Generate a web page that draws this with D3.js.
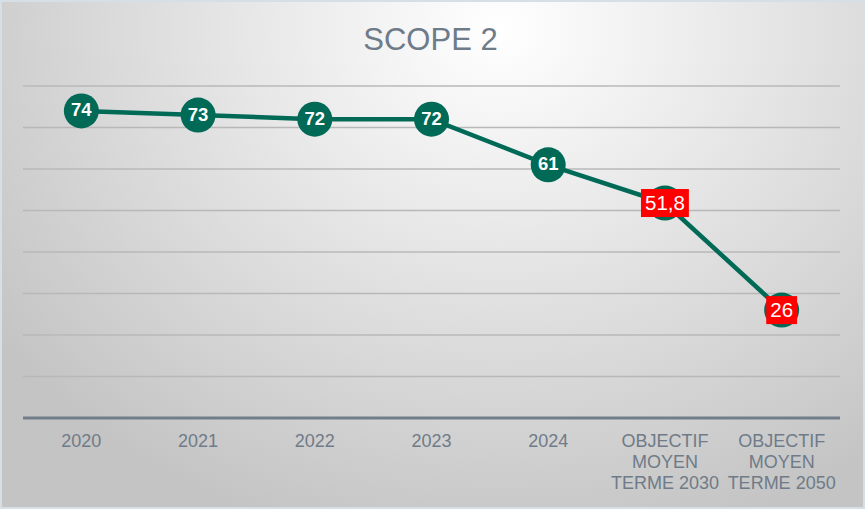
<!DOCTYPE html>
<html>
<head>
<meta charset="utf-8">
<script src="https://cdn.jsdelivr.net/npm/d3@7"></script>
<style>
  html, body { margin: 0; padding: 0; background: #d8dfe6; }
  svg { display: block; }
</style>
</head>
<body>
<svg id="chart" width="865" height="509"></svg>
<script>
const categories = ["2020", "2021", "2022", "2023", "2024", "OBJECTIF MOYEN TERME 2030", "OBJECTIF MOYEN TERME 2050"];
const categoryLines = [["2020"], ["2021"], ["2022"], ["2023"], ["2024"], ["OBJECTIF", "MOYEN", "TERME 2030"], ["OBJECTIF", "MOYEN", "TERME 2050"]];
const values = [74, 73, 72, 72, 61, 51.8, 26];
const valueLabels = ["74", "73", "72", "72", "61", "51,8", "26"];
const highlighted = [false, false, false, false, false, true, true];
const yTicks = [0, 10, 20, 30, 40, 50, 60, 70, 80];
const title = "SCOPE 2";

const W = 865, H = 509;
const svg = d3.select("#chart");
const defs = svg.append("defs");
const grad = defs.append("radialGradient")
  .attr("id", "bg").attr("gradientUnits", "userSpaceOnUse")
  .attr("cx", 500).attr("cy", 30).attr("r", 620)
  .attr("gradientTransform", "translate(500,30) scale(1,0.85) translate(-500,-30)");
grad.append("stop").attr("offset", "0%").attr("stop-color", "#ffffff");
grad.append("stop").attr("offset", "100%").attr("stop-color", "#c4c4c4");

svg.append("rect").attr("x", 0).attr("y", 0).attr("width", W).attr("height", H).attr("fill", "#d6dee6");
svg.append("rect").attr("x", 2).attr("y", 2).attr("width", W - 4).attr("height", H - 4).attr("fill", "url(#bg)");

const margin = { left: 23, right: 25, top: 86, bottom: 91 };
const x = d3.scaleBand().domain(categories).range([margin.left, W - margin.right]);
const y = d3.scaleLinear().domain([0, 80]).range([418, 86]);

// gridlines
svg.append("g").selectAll("line").data(yTicks.filter(t => t > 0)).join("line")
  .attr("x1", margin.left).attr("x2", W - margin.right)
  .attr("y1", d => y(d)).attr("y2", d => y(d))
  .attr("stroke", "#b8b8b8").attr("stroke-width", 1.5);

// x axis line
svg.append("line")
  .attr("x1", margin.left).attr("x2", W - margin.right)
  .attr("y1", y(0)).attr("y2", y(0))
  .attr("stroke", "#717e8a").attr("stroke-width", 3);

// x axis labels
const xAxis = d3.axisBottom(x).tickSize(0).tickFormat(() => "");
const gx = svg.append("g").attr("transform", `translate(0,${y(0)})`).call(xAxis);
gx.select(".domain").remove();
gx.selectAll(".tick").each(function(d, i) {
  const t = d3.select(this).append("text")
    .attr("text-anchor", "middle")
    .attr("font-family", "Liberation Sans, Arial, sans-serif")
    .attr("font-size", 18)
    .attr("fill", "#6f7b88");
  categoryLines[i].forEach((ln, j) => {
    t.append("tspan").attr("x", 0).attr("y", 29 + j * 21).text(ln);
  });
});

// title
svg.append("text")
  .attr("x", W / 2 - 2).attr("y", 50)
  .attr("text-anchor", "middle")
  .attr("font-family", "Liberation Sans, Arial, sans-serif")
  .attr("font-size", 31)
  .attr("fill", "#6e7b89")
  .text(title);

// line
const cx = (d, i) => x(categories[i]) + x.bandwidth() / 2;
const line = d3.line().x((d, i) => cx(d, i)).y(d => y(d));
svg.append("path").datum(values)
  .attr("d", line)
  .attr("fill", "none")
  .attr("stroke", "#006a57")
  .attr("stroke-width", 4.5);

// markers
svg.append("g").selectAll("circle").data(values).join("circle")
  .attr("cx", cx).attr("cy", d => y(d)).attr("r", 17.5)
  .attr("fill", "#006a57");

// labels
const lbl = svg.append("g").selectAll("g").data(values).join("g")
  .attr("transform", (d, i) => `translate(${cx(d, i)},${y(d)})`);
lbl.each(function(d, i) {
  const g = d3.select(this);
  if (highlighted[i]) {
    const t = g.append("text")
      .attr("text-anchor", "middle").attr("dy", "0.36em")
      .attr("font-family", "Liberation Sans, Arial, sans-serif")
      .attr("font-size", 20.5).attr("fill", "#ffffff")
      .text(valueLabels[i]);
    const bb = t.node().getBBox();
    g.insert("rect", "text")
      .attr("x", bb.x - 4).attr("y", -14)
      .attr("width", bb.width + 8).attr("height", 28)
      .attr("fill", "#ff0000");
  } else {
    g.append("text")
      .attr("text-anchor", "middle").attr("dy", "0.3em")
      .attr("font-family", "Liberation Sans, Arial, sans-serif")
      .attr("font-size", 18.5).attr("font-weight", "bold").attr("fill", "#ffffff")
      .text(valueLabels[i]);
  }
});
</script>
</body>
</html>
